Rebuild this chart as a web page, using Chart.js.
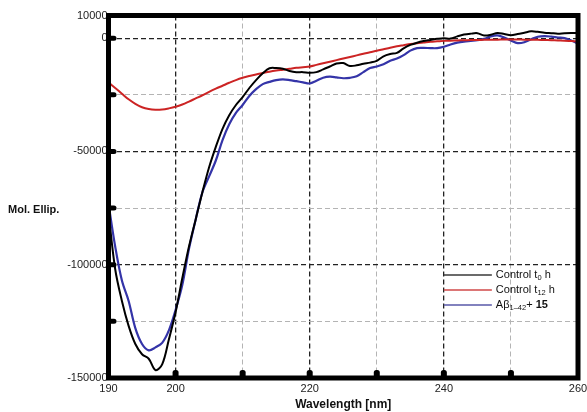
<!DOCTYPE html>
<html>
<head>
<meta charset="utf-8">
<script src="https://cdn.jsdelivr.net/npm/chart.js@4.4.0/dist/chart.umd.min.js"></script>
<style>
  html, body { margin: 0; padding: 0; background: #fff; }
  #wrap { position: relative; width: 587px; height: 412px; }
</style>
</head>
<body>
<div id="wrap"><canvas id="cd"></canvas></div>
<script>
// wavelength in nm
const wavelength = [190,191,192,193,194,195,196,197,198,199,200,201,202,203,204,205,206,207,208,209,
  210,211,212,213,214,215,216,217,218,219,220,221,222,223,224,225,226,227,228,229,
  230,231,232,233,234,235,236,237,238,239,240,241,242,243,244,245,246,247,248,249,
  250,251,252,253,254,255,256,257,258,259,260];

const controlT0 = [-77000,-102000,-116000,-127000,-135000,-139500,-141500,-146500,-144000,-133000,
  -121000,-106000,-92000,-80000,-68000,-57000,-48000,-40000,-34000,-29500,
  -26000,-22000,-18500,-15500,-13300,-13200,-13500,-14500,-15000,-15000,
  -15300,-15000,-13800,-12500,-11200,-11000,-12300,-12000,-11300,-10800,
  -10000,-8000,-7000,-6500,-4500,-3000,-2000,-1300,-800,-300,
  0,-200,800,1600,2000,2200,1200,1500,2300,1800,
  1300,1800,2400,3000,2800,2400,2200,2000,2200,2300,2200];

const controlT12 = [-19500,-22000,-24500,-27000,-29000,-30500,-31300,-31600,-31500,-31000,
  -30300,-29300,-28000,-26600,-25200,-23700,-22300,-21000,-19700,-18500,
  -17500,-16700,-16000,-15400,-14800,-14300,-13900,-13500,-13100,-12800,
  -12500,-11800,-11100,-10400,-9700,-9000,-8300,-7600,-6900,-6200,
  -5600,-4900,-4200,-3600,-3100,-2600,-2200,-1900,-1600,-1400,
  -1200,-1100,-1000,-900,-850,-800,-750,-700,-650,-600,
  -600,-600,-650,-700,-750,-800,-900,-1000,-1100,-1300,-1500];

const abeta15 = [-73000,-92000,-107000,-116000,-128000,-135000,-137800,-136500,-134500,-129000,
  -120000,-109000,-93000,-80000,-68000,-61000,-54000,-45000,-38000,-33000,
  -29500,-25500,-22500,-20300,-19300,-18500,-18200,-18500,-19000,-19500,
  -20000,-18800,-17500,-17000,-17300,-17700,-17500,-16800,-15000,-13200,
  -12500,-11500,-10000,-9000,-7500,-5500,-4400,-4300,-4400,-4400,
  -3800,-2800,-2000,-1500,-1200,-900,-300,800,1200,300,
  -1000,-2200,-1800,-500,600,900,700,300,0,-1000,-2500];

const yTicks = [-150000,-125000,-100000,-75000,-50000,-25000,0,10000];
const yLabels = [-150000,-100000,-50000,0,10000];
const xTicks = [190,200,210,220,230,240,250,260];
const xLabels = [190,200,220,240,260];

const seriesNames = [
  [['Control t', false, false], ['0', true, false], [' h', false, false]],
  [['Control t', false, false], ['12', true, false], [' h', false, false]],
  [['A\u03b2', false, false], ['1\u201342', true, false], ['+ ', false, false], ['15', false, true]]
];
const legendColors = ['#3a3a3a', '#d04848', '#5858a8'];

const FONT = '"Liberation Sans", Arial, sans-serif';

const pts = (ys) => wavelength.map((x, i) => ({ x: x, y: ys[i] }));

const framePlugin = {
  id: 'frame',
  afterDatasetsDraw(chart) {
    const { ctx, chartArea: a, scales } = chart;
    ctx.save();
    ctx.fillStyle = '#000';
    // knobs on the left axis
    yTicks.forEach(v => {
      if (v === 10000 || v === -150000) return;
      const y = scales.y.getPixelForValue(v);
      ctx.beginPath();
      ctx.roundRect(a.left, y - 2.5, 8, 5, 2.5);
      ctx.fill();
    });
    // knobs on the bottom axis
    xTicks.forEach(v => {
      if (v === 190 || v === 260) return;
      const x = scales.x.getPixelForValue(v);
      ctx.beginPath();
      ctx.roundRect(x - 3, a.bottom - 8, 6, 8, 2.5);
      ctx.fill();
    });
    ctx.strokeStyle = '#000';
    ctx.lineWidth = 5;
    ctx.strokeRect(a.left, a.top, a.right - a.left, a.bottom - a.top);

    // y label, horizontal
    ctx.font = 'bold 11px ' + FONT;
    ctx.textAlign = 'left';
    ctx.textBaseline = 'middle';
    ctx.fillStyle = '#111';
    ctx.fillText('Mol. Ellip.', 8, 210);

    // legend
    const lx = scales.x.getPixelForValue(240), ly = scales.y.getPixelForValue(-104500);
    seriesNames.forEach((parts, i) => {
      const y = ly + i * 15;
      ctx.strokeStyle = legendColors[i];
      ctx.lineWidth = 1.5;
      ctx.beginPath();
      ctx.moveTo(lx, y);
      ctx.lineTo(lx + 48, y);
      ctx.stroke();
      let x = lx + 52;
      ctx.fillStyle = '#111';
      parts.forEach(([t, sub, bold]) => {
        ctx.font = (bold ? 'bold ' : '') + (sub ? '7.5px ' : '11px ') + FONT;
        ctx.fillText(t, x, sub ? y + 3 : y);
        x += ctx.measureText(t).width;
      });
    });
    ctx.restore();
  }
};

new Chart(document.getElementById('cd'), {
  type: 'line',
  data: {
    datasets: [
      { label: 'Control t0 h', data: pts(controlT0), borderColor: '#000', borderWidth: 2 },
      { label: 'Control t12 h', data: pts(controlT12), borderColor: '#cc2424', borderWidth: 2 },
      { label: 'A\u03b21-42 + 15', data: pts(abeta15), borderColor: '#3434a8', borderWidth: 2.2 }
    ]
  },
  options: {
    responsive: true,
    maintainAspectRatio: false,
    animation: false,
    layout: { padding: { left: 0, right: 0, top: 15.5, bottom: 0 } },
    elements: { point: { radius: 0 }, line: { tension: 0.35 } },
    plugins: { legend: { display: false }, tooltip: { enabled: false } },
    scales: {
      x: {
        type: 'linear',
        min: 190, max: 260,
        afterBuildTicks: s => { s.ticks = xTicks.map(v => ({ value: v })); },
        afterFit: s => { s.height = 34; s.paddingRight = 9; },
        ticks: {
          padding: 4,
          color: '#222',
          font: { family: FONT, size: 11 },
          callback: v => xLabels.includes(v) ? String(v) : ''
        },
        grid: {
          drawTicks: false,
          lineWidth: c => c.tick.value % 20 === 0 ? 1.3 : 1,
          color: c => (c.tick.value === 190 || c.tick.value === 260) ? 'rgba(0,0,0,0)'
            : (c.tick.value % 20 === 0 ? '#222' : '#b4b4b4')
        },
        border: { display: false, dash: [5, 3] },
        title: {
          display: true,
          text: 'Wavelength [nm]',
          color: '#111',
          font: { family: FONT, size: 12, weight: 'bold' },
          padding: { top: 0, bottom: 0 }
        }
      },
      y: {
        min: -150000, max: 10000,
        afterBuildTicks: s => { s.ticks = yTicks.map(v => ({ value: v })); },
        afterFit: s => { s.width = 108.5; },
        ticks: {
          padding: 1,
          color: '#222',
          font: { family: FONT, size: 11 },
          callback: v => yLabels.includes(v) ? String(v) : ''
        },
        grid: {
          drawTicks: false,
          lineWidth: c => c.tick.value % 50000 === 0 ? 1.3 : 1,
          color: c => (c.tick.value === 10000 || c.tick.value === -150000) ? 'rgba(0,0,0,0)'
            : (c.tick.value % 50000 === 0 ? '#222' : '#b4b4b4')
        },
        border: { display: false, dash: [5, 3] }
      }
    }
  },
  plugins: [framePlugin]
});
</script>
</body>
</html>
